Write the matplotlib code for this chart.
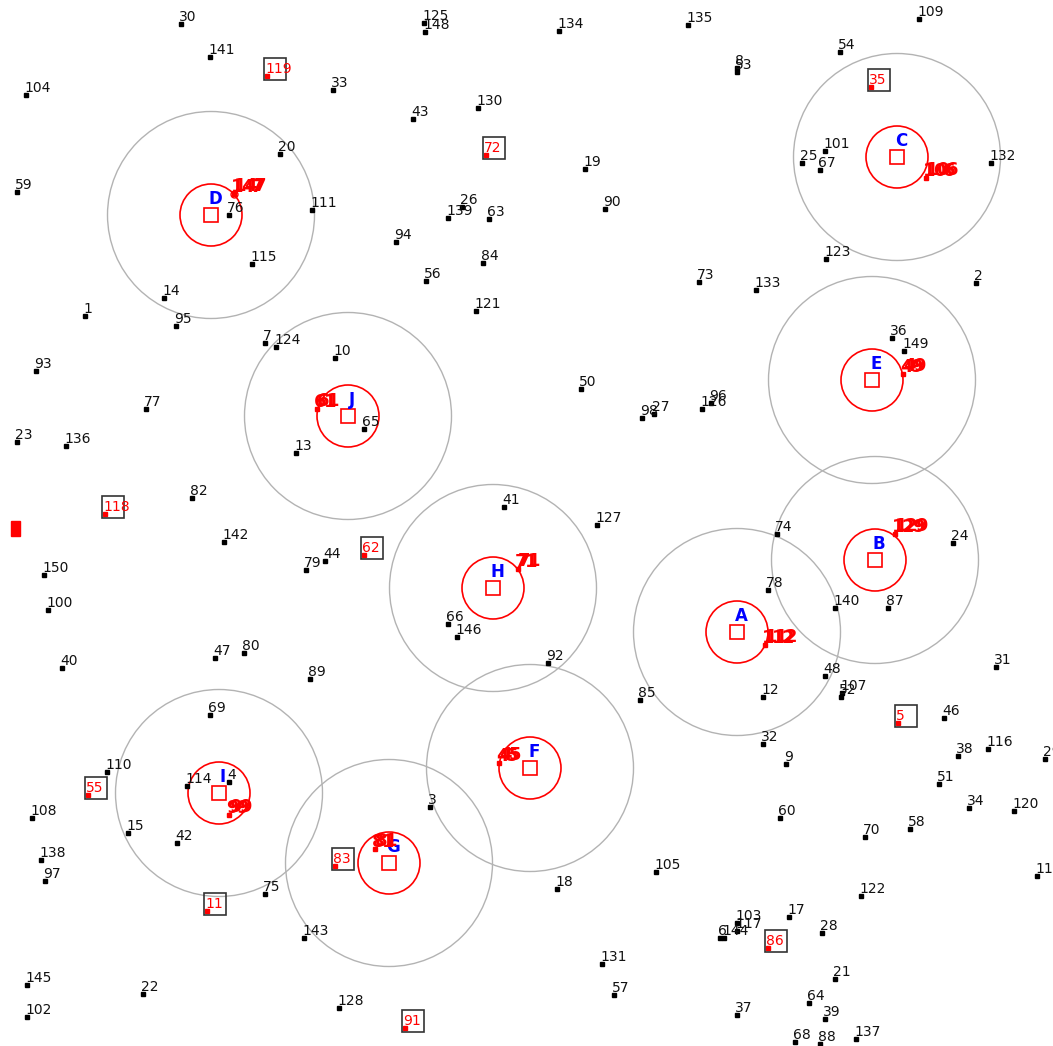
import matplotlib
matplotlib.use('Agg')
import matplotlib.pyplot as plt
from matplotlib.patches import Circle, Rectangle

# Point ids and their projected coordinates
ids = [1, 2, 3, 4, 5, 6, 7, 8, 9, 10, 11, 12, 13, 14, 15, 17, 18, 19, 20,
       21, 22, 23, 24, 25, 26, 27, 28, 29, 30, 31, 32, 33, 34, 35, 36, 37, 38, 39, 40,
       41, 42, 43, 44, 45, 46, 47, 48, 49, 50, 51, 52, 53, 54, 55, 56, 57, 58, 59, 60,
       61, 62, 63, 64, 65, 66, 67, 68, 69, 70, 71, 72, 73, 74, 75, 76, 77, 78, 79, 80,
       81, 82, 83, 84, 85, 86, 87, 88, 89, 90, 91, 92, 93, 94, 95, 96, 97, 98, 99, 100,
       101, 102, 103, 104, 105, 106, 107, 108, 109, 110, 111, 112, 113, 114, 115, 116, 117, 118, 119, 120,
       121, 122, 123, 124, 125, 126, 127, 128, 129, 130, 131, 132, 133, 134, 135, 136, 137, 138, 139, 140,
       141, 142, 143, 144, 145, 146, 147, 148, 149, 150]
xs = [85, 976, 430, 229, 898, 720, 265, 737, 786, 335, 207, 763, 296, 164, 128, 789, 557, 585, 280,
      835, 143, 17, 953, 802, 462, 654, 822, 1045, 181, 996, 763, 333, 969, 871, 892, 737, 958, 825, 62,
      504, 177, 413, 325, 499, 944, 215, 825, 903, 581, 939, 841, 737, 840, 88, 426, 614, 910, 17, 780,
      317, 364, 489, 809, 364, 448, 820, 795, 210, 865, 518, 486, 699, 777, 265, 229, 146, 768, 306, 244,
      375, 192, 335, 483, 640, 768, 888, 820, 310, 605, 405, 548, 36, 396, 176, 711, 45, 642, 229, 48,
      825, 27, 737, 26, 656, 926, 842, 32, 919, 107, 312, 765, 1037, 187, 252, 988, 737, 105, 267, 1014,
      476, 861, 826, 276, 424, 702, 597, 339, 895, 478, 602, 991, 756, 559, 688, 66, 856, 41, 448, 835,
      210, 224, 304, 724, 27, 457, 234, 425, 904, 44]
ys = [316, 283, 807, 782, 723, 938, 343, 68, 764, 358, 911, 697, 453, 298, 833, 917, 889, 169, 154,
      979, 994, 442, 543, 163, 207, 414, 933, 759, 24, 667, 744, 90, 808, 87, 338, 1015, 756, 1019, 668,
      507, 843, 119, 561, 763, 718, 658, 676, 374, 389, 784, 697, 72, 52, 795, 281, 995, 829, 192, 818,
      409, 555, 219, 1003, 429, 624, 170, 1042, 715, 837, 569, 155, 282, 534, 894, 215, 409, 590, 570, 653,
      849, 498, 866, 263, 700, 948, 608, 1044, 679, 209, 1028, 663, 371, 242, 326, 403, 881, 418, 815, 610,
      151, 1017, 923, 95, 872, 178, 693, 818, 19, 772, 210, 645, 876, 786, 264, 749, 931, 514, 76, 811,
      311, 896, 259, 347, 23, 409, 525, 1008, 534, 108, 964, 163, 290, 31, 25, 446, 1039, 860, 218, 608,
      57, 542, 938, 938, 985, 637, 194, 32, 351, 575]

# outliers (boxed) and points on the inner circles (bold red)
outliers = [5, 11, 35, 55, 62, 72, 83, 86, 91, 118, 119]
boundary = [45, 49, 61, 71, 81, 99, 106, 112, 129, 147]
ringed = [147]

# cluster centres
clusters = ['A', 'B', 'C', 'D', 'E', 'F', 'G', 'H', 'I', 'J']
cx = [737, 875, 897, 211, 872, 530, 389, 493, 219, 348]
cy = [632, 560, 157, 215, 380, 768, 863, 588, 793, 416]
r_inner = [31, 31, 31, 31, 31, 31, 31, 31, 31, 31]
r_outer = [103.5, 103.5, 103.5, 103.5, 103.5, 103.5, 103.5, 103.5, 103.5, 103.5]

# red bar at the left edge
bar_x, bar_y, bar_w, bar_h = 11, 521, 9, 15

fig = plt.figure(figsize=(10.53, 10.46), dpi=100)
ax = fig.add_axes([0, 0, 1, 1])
ax.set_xlim(0, 1053)
ax.set_ylim(1046, 0)
ax.axis('off')

for i in range(len(clusters)):
    ax.add_patch(Circle((cx[i], cy[i]), r_outer[i], fill=False, ec='#b3b3b3', lw=1.0))
    ax.add_patch(Circle((cx[i], cy[i]), r_inner[i], fill=False, ec='red', lw=1.2))
    ax.plot(cx[i], cy[i], marker='s', ms=10, mfc='none', mec='red', mew=1.2)
    ax.annotate(clusters[i], (cx[i], cy[i]), xytext=(4, 11), textcoords='offset pixels',
                ha='center', va='baseline', color='blue', fontsize=12, fontweight='bold')

ax.add_patch(Rectangle((bar_x, bar_y), bar_w, bar_h, color='red'))


def smeared_label(pid, x, y):
    # bold digits set a bit tight, drawn twice with a small shift
    for dx, dy in ((0, 0), (3, 1)):
        for k, ch in enumerate(str(pid)):
            ax.annotate(ch, (x, y), xytext=(-3 + dx + 10 * k, 2 + dy), textcoords='offset pixels',
                        ha='left', va='baseline', color='red', fontsize=13, fontweight='bold')


for pid, x, y in zip(ids, xs, ys):
    if pid in outliers:
        ax.plot(x, y, marker='s', ms=3, color='red', ls='none')
        ax.annotate(pid, (x, y), xytext=(-2, 3), textcoords='offset pixels',
                    ha='left', va='baseline', color='red', fontsize=10)
        # box around the label
        ax.plot([x + 7.5], [y - 7], marker='s', ms=16.5, mfc='none', mec='#333333', mew=1.2)
    elif pid in boundary:
        ax.plot(x, y, marker='s', ms=3, color='red', ls='none')
        if pid in ringed:
            ax.plot(x, y, marker='o', ms=5, mfc='none', mec='red', mew=1)
        smeared_label(pid, x, y)
    else:
        ax.plot(x, y, marker='s', ms=3, color='black', ls='none')
        ax.annotate(pid, (x, y), xytext=(-2, 3), textcoords='offset pixels',
                    ha='left', va='baseline', color='#111111', fontsize=10)

fig.savefig('out.png', dpi=100)
